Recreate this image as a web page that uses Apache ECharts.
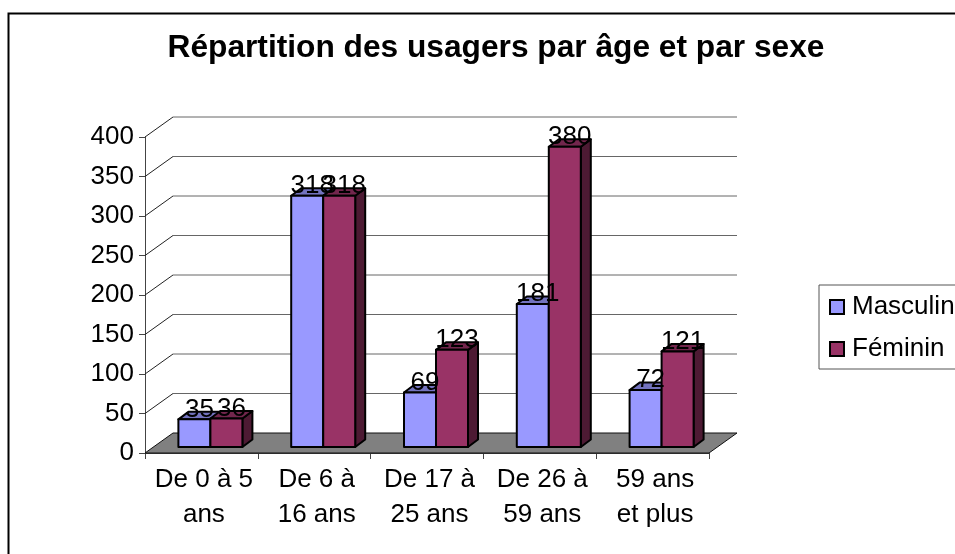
<!DOCTYPE html>
<html><head><meta charset="utf-8">
<style>html,body{margin:0;padding:0;background:#fff}#c{width:955px;height:554px}</style>
<script src="https://cdn.jsdelivr.net/npm/echarts@6/dist/echarts.min.js"></script>
</head><body><div id="c"></div>
<script>
const titleText = 'Répartition des usagers par âge et par sexe';
const categories = ['De 0 à 5\nans','De 6 à\n16 ans','De 17 à\n25 ans','De 26 à\n59 ans','59 ans\net plus'];
const masculin = [35,318,69,181,72];
const feminin = [36,318,123,380,121];
const yTicks = [0,50,100,150,200,250,300,350,400];

const FONT = '"Liberation Sans", Arial, sans-serif';
const WALL_DX = 28, WALL_DY = -20;      // depth of the 3D box
const BAR_DX = 10, BAR_DY = -7.5;       // depth of each bar
const FLOOR_SHIFT = [9, -6];            // bars stand in the middle of the floor
const BAR_W = 32;

function wallItem(params, api) {
  const v = api.value(1);
  const cs = params.coordSys;
  const y = api.coord([0, v])[1];
  const x0 = cs.x, x1 = cs.x + cs.width;
  const kids = [];
  if (v === 0) {
    kids.push({type:'polygon', shape:{points:[[x0,y],[x1,y],[x1+WALL_DX,y+WALL_DY],[x0+WALL_DX,y+WALL_DY]]},
      style:{fill:'#808080', stroke:'#111', lineWidth:1}});
  } else {
    kids.push({type:'line', shape:{x1:x0,y1:y,x2:x0+WALL_DX,y2:y+WALL_DY}, style:{stroke:'#222',lineWidth:1}});
    kids.push({type:'line', shape:{x1:x0+WALL_DX,y1:y+WALL_DY,x2:x1+WALL_DX,y2:y+WALL_DY}, style:{stroke:'#666',lineWidth:1}});
  }
  return {type:'group', children:kids};
}

function barRenderer(seriesPos, front, top, side) {
  return function (params, api) {
    const i = api.value(0), v = api.value(1);
    const base = api.coord([i, 0]);
    const head = api.coord([i, v]);
    const cx = base[0] + FLOOR_SHIFT[0];
    const xl = cx - BAR_W + seriesPos * BAR_W, xr = xl + BAR_W;
    const yb = base[1] + FLOOR_SHIFT[1], yt = head[1] + FLOOR_SHIFT[1];
    const stroke = {stroke:'#000', lineWidth:2, lineJoin:'round'};
    return {type:'group', children:[
      {type:'polygon', shape:{points:[[xr,yb],[xr+BAR_DX,yb+BAR_DY],[xr+BAR_DX,yt+BAR_DY],[xr,yt]]}, style:Object.assign({fill:side},stroke)},
      {type:'polygon', shape:{points:[[xl,yt],[xr,yt],[xr+BAR_DX,yt+BAR_DY],[xl+BAR_DX,yt+BAR_DY]]}, style:Object.assign({fill:top},stroke)},
      {type:'rect', shape:{x:xl,y:yt,width:BAR_W,height:yb-yt}, style:Object.assign({fill:front},stroke)},
      {type:'text', z2:100, style:{text:String(v), x:(xl+xr)/2+5, y:yt-10, align:'center', verticalAlign:'middle',
        fill:'#000', font:'26px '+FONT}}
    ]};
  };
}

const chart = echarts.init(document.getElementById('c'), null, {renderer:'canvas'});
chart.setOption({
  animation:false,
  backgroundColor:'#fff',
  title:{text:titleText,left:491,top:27,textAlign:'center',textStyle:{fontFamily:FONT,fontSize:31.7,fontWeight:'bold',color:'#000'}},
  legend:{
    data:['Masculin','Féminin'], orient:'vertical', left:819, top:285,
    padding:[9,30,7,10], itemWidth:14, itemHeight:14, itemGap:16, icon:'rect', selectedMode:false,
    borderColor:'#555', borderWidth:1,
    textStyle:{fontFamily:FONT,fontSize:26,color:'#000',padding:[0,0,0,3]}
  },
  grid:{left:145,top:137,width:564,height:316,containLabel:false},
  xAxis:{type:'category',data:categories,
    axisLine:{lineStyle:{color:'#444',width:1}},
    axisTick:{show:true,length:6,lineStyle:{color:'#444'}},
    axisLabel:{color:'#000',fontFamily:FONT,fontSize:26,lineHeight:35,margin:9,interval:0,padding:[0,0,0,5]},
    splitLine:{show:false}},
  yAxis:{type:'value',min:0,max:400,interval:50,
    axisLine:{show:true,lineStyle:{color:'#444',width:1}},
    axisTick:{show:true,length:6,lineStyle:{color:'#444'}},
    axisLabel:{color:'#000',fontFamily:FONT,fontSize:26,margin:11},
    splitLine:{show:false}},
  graphic:[{type:'polyline',silent:true,z:50,shape:{points:[[8.5,560],[8.5,13.5],[960,13.5]]},style:{fill:null,stroke:'#000',lineWidth:2}}],
  series:[
    {type:'custom',name:'Fond',silent:true,z:1,renderItem:wallItem,encode:{x:0,y:1},data:yTicks.map(v=>[0,v])},
    {type:'custom',name:'Masculin',z:3,renderItem:barRenderer(0,'#9999FF','#7373BF','#4D4D80'),encode:{x:0,y:1},
      itemStyle:{color:'#9999FF',borderColor:'#000',borderWidth:2},data:masculin.map((v,i)=>[i,v])},
    {type:'custom',name:'Féminin',z:3,renderItem:barRenderer(1,'#993366','#73264D','#4D1A33'),encode:{x:0,y:1},
      itemStyle:{color:'#993366',borderColor:'#000',borderWidth:2},data:feminin.map((v,i)=>[i,v])}
  ]
});
</script></body></html>
